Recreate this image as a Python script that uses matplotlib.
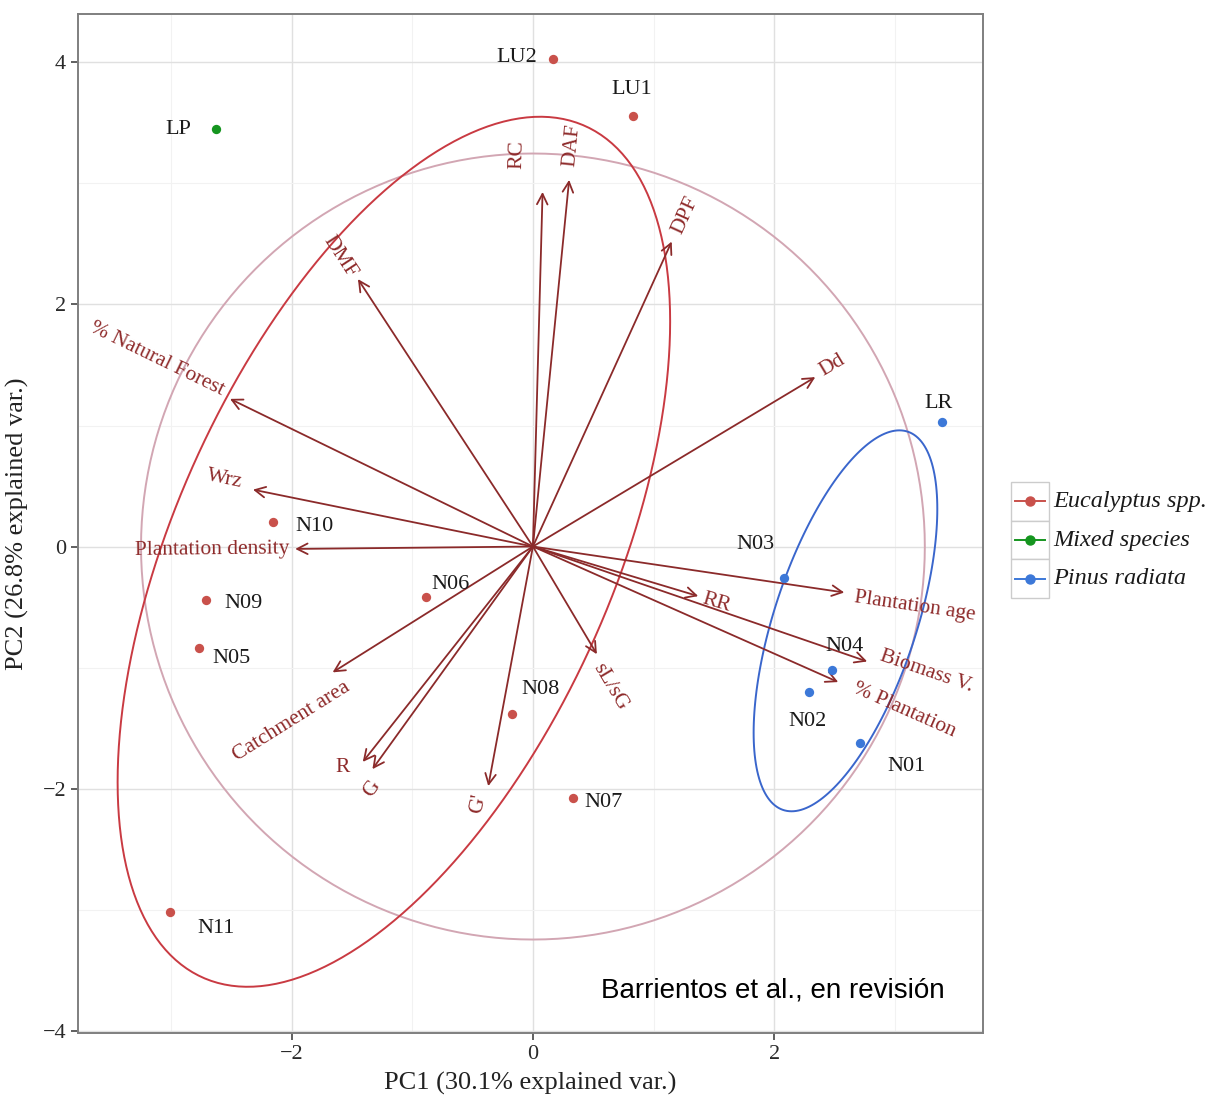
import numpy as np
import matplotlib
matplotlib.use('Agg')
import matplotlib.pyplot as plt
from matplotlib.lines import Line2D
from matplotlib.patches import Rectangle, Polygon

# sample scores on PC1 / PC2
site_names = ['LU2', 'LU1', 'LP', 'LR', 'N10', 'N03', 'N09', 'N06',
              'N05', 'N04', 'N02', 'N01', 'N08', 'N07', 'N11']
pc1 = [0.17, 0.83, -2.63, 3.39, -2.15, 2.08, -2.71, -0.89,
       -2.77, 2.48, 2.29, 2.71, -0.17, 0.33, -3.01]
pc2 = [4.03, 3.56, 3.45, 1.03, 0.20, -0.26, -0.44, -0.42,
       -0.84, -1.02, -1.20, -1.62, -1.38, -2.08, -3.02]
groups = ['Eucalyptus spp.', 'Eucalyptus spp.', 'Mixed species', 'Pinus radiata',
          'Eucalyptus spp.', 'Pinus radiata', 'Eucalyptus spp.', 'Eucalyptus spp.',
          'Eucalyptus spp.', 'Pinus radiata', 'Pinus radiata', 'Pinus radiata',
          'Eucalyptus spp.', 'Eucalyptus spp.', 'Eucalyptus spp.']
group_names = ['Eucalyptus spp.', 'Mixed species', 'Pinus radiata']

# variable loadings (arrow tips)
var_names = ['RC', 'DAF', 'DPF', 'DMF', '% Natural Forest', 'Dd', 'Wrz',
             'Plantation density', 'Catchment area', 'R', 'G', "G'", 'sL/sG',
             'RR', 'Plantation age', 'Biomass V.', '% Plantation']
load1 = [0.08, 0.30, 1.15, -1.45, -2.51, 2.34, -2.32, -1.97, -1.66, -1.41,
         -1.33, -0.37, 0.53, 1.37, 2.58, 2.77, 2.53]
load2 = [2.93, 3.03, 2.52, 2.21, 1.22, 1.40, 0.47, -0.02, -1.04, -1.78,
         -1.84, -1.98, -0.89, -0.41, -0.38, -0.95, -1.12]

# label placement (pixel offsets from point / arrow tip)
site_off = [(-37, 1), (-1, 26), (-37, 0), (-3, 18), (41, -4), (-28, 33), (38, -4),
            (25, 13), (33, -10), (12, 23), (-2, -30), (47, -24), (28, 24),
            (31, -4), (46, -17)]
var_off = [(-25, 37), (3, 35), (14, 26), (-18, 22), (-73, 40), (17, 12), (-28, 10),
           (-83, -1), (-41, -49), (-20, -6), (0, -20), (-10, -18), (13, -33),
           (18, -7), (71, -14), (59, -10), (66, -28)]
upright = ['R']

colors = {'Eucalyptus spp.': '#C9514B', 'Mixed species': '#15951F',
          'Pinus radiata': '#3C78D8'}
ell_colors = {'Eucalyptus spp.': '#C93A42', 'Pinus radiata': '#3A66CC'}

serif = 'Liberation Serif'
px = 72 / 100  # pixel -> points

fig = plt.figure(figsize=(12.09, 10.98), dpi=100)
ax = fig.add_axes([0.0645, 0.0592, 0.7486, 0.928])
ax.set_xlim(-3.77, 3.73)
ax.set_ylim(-4.02, 4.40)

ax.set_xticks([-2, 0, 2])
ax.set_yticks([-4, -2, 0, 2, 4])
ax.set_xticks([-3, -1, 1, 3], minor=True)
ax.set_yticks([-3, -1, 1, 3], minor=True)
ax.grid(which='major', color='#E0E0E0', lw=1.0)
ax.grid(which='minor', color='#F2F2F2', lw=0.8)
ax.set_axisbelow(True)
ax.tick_params(which='minor', length=0)
ax.tick_params(which='major', length=5, width=1.2, color='#444444',
               labelsize=16, labelcolor='#2A2A2A')
for lab in ax.get_xticklabels() + ax.get_yticklabels():
    lab.set_fontfamily(serif)
for sp in ax.spines.values():
    sp.set_color('#7F7F7F')
    sp.set_linewidth(1.4)

x = np.array(pc1)
y = np.array(pc2)
g = np.array(groups)

# correlation circle (ggbiplot style)
r = np.sqrt(-2 * np.log(1 - 0.69)) * np.prod([np.mean(x ** 2), np.mean(y ** 2)]) ** 0.25
t = np.linspace(-np.pi, np.pi, 200, endpoint=False)
circ = np.column_stack([np.cos(t), np.sin(t)])
ax.add_patch(Polygon(circ * r, closed=True, fill=False, edgecolor='#D2A6B3',
                     lw=1.4, zorder=2))

# normal data ellipses
ed = np.sqrt(-2 * np.log(1 - 0.68))
for grp in group_names:
    m = g == grp
    if m.sum() <= 2:
        continue
    pts = np.column_stack([x[m], y[m]])
    sigma = np.cov(pts.T)
    L = np.linalg.cholesky(sigma)
    ell = circ @ L.T * ed + pts.mean(axis=0)
    ax.add_patch(Polygon(ell, closed=True, fill=False, edgecolor=ell_colors[grp],
                         lw=1.4, zorder=3))

# arrows and their labels
for name, vx, vy, (dx, dy) in zip(var_names, load1, load2, var_off):
    ax.annotate('', xy=(vx, vy), xytext=(0, 0),
                arrowprops=dict(arrowstyle='->,head_length=0.75,head_width=0.38',
                                color='#8B2A2A', lw=1.3, shrinkA=0, shrinkB=0),
                zorder=4)
    ang = 0 if name in upright else np.degrees(np.arctan(vy / vx))
    ax.annotate(name, xy=(vx, vy), xytext=(dx * px, dy * px),
                textcoords='offset points', ha='center', va='center',
                rotation=ang, rotation_mode='anchor', color='#8E2A2A',
                fontsize=15.5, family=serif, zorder=5)

# sample points and labels
for nm, xi, yi, grp, (dx, dy) in zip(site_names, pc1, pc2, groups, site_off):
    ax.scatter(xi, yi, s=45, color=colors[grp], zorder=6, linewidths=0)
    ax.annotate(nm, xy=(xi, yi), xytext=(dx * px, dy * px),
                textcoords='offset points', ha='center', va='center',
                color='#1A1A1A', fontsize=16, family=serif, zorder=7)

ax.set_xlabel('PC1 (30.1% explained var.)', fontsize=19, family=serif,
              color='#222222', labelpad=6)
ax.set_ylabel('PC2 (26.8% explained var.)', fontsize=19, family=serif,
              color='#222222', labelpad=10)

ax.text(0.768, 0.042, 'Barrientos et al., en revisión', transform=ax.transAxes,
        ha='center', va='center', fontsize=20, family='Liberation Sans',
        color='black')

# legend drawn as ggplot-style keys
W, H = 1209, 1098
key_w, key_h = 38, 38.7
x0, ytop = 1011, 482
for i, grp in enumerate(group_names):
    yb = ytop + (i + 1) * key_h
    fig.add_artist(Rectangle((x0 / W, 1 - yb / H), key_w / W, key_h / H,
                             transform=fig.transFigure, facecolor='white',
                             edgecolor='#CCCCCC', lw=1.0))
    yc = 1 - (yb - key_h / 2) / H
    fig.add_artist(Line2D([(x0 + 4) / W, (x0 + key_w - 4) / W], [yc, yc],
                          transform=fig.transFigure, color=colors[grp], lw=1.4))
    fig.add_artist(Line2D([(x0 + key_w / 2) / W], [yc], transform=fig.transFigure,
                          marker='o', markersize=6.5, color=colors[grp], lw=0))
    fig.text((x0 + key_w + 4) / W, yc, grp, ha='left', va='center',
             fontsize=17.5, family=serif, style='italic', color='#1A1A1A')

fig.savefig('out.png', dpi=100)
